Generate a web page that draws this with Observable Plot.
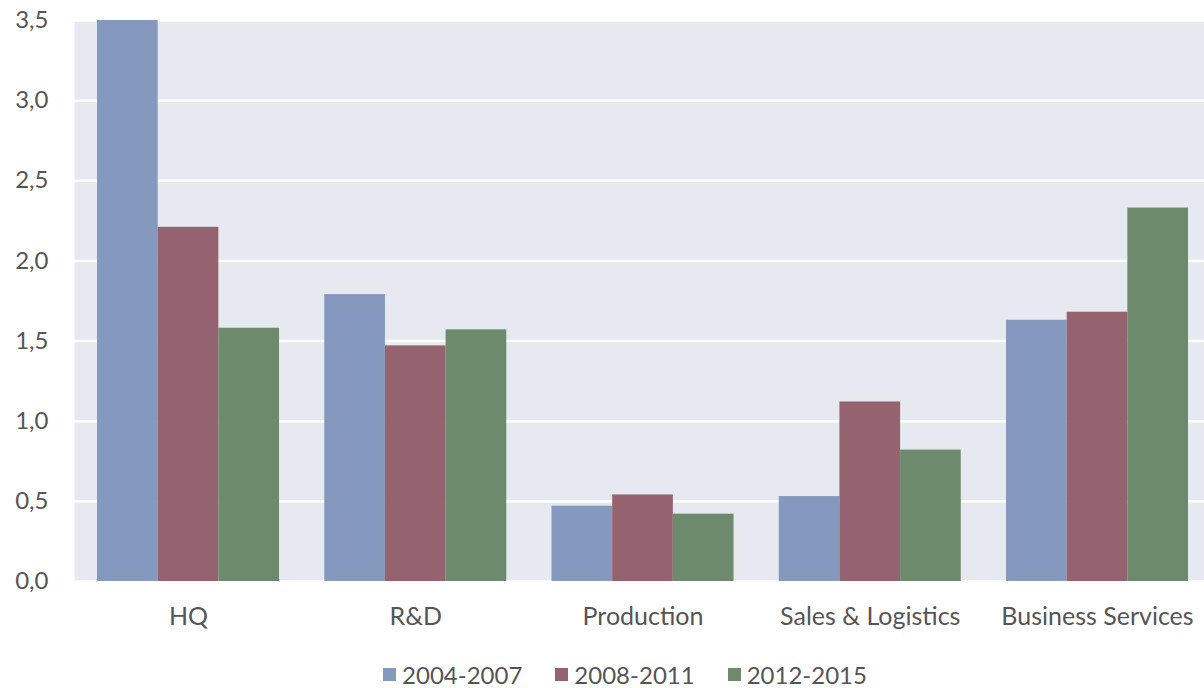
<!DOCTYPE html>
<html>
<head>
<meta charset="utf-8">
<script src="https://cdn.jsdelivr.net/npm/d3@7"></script>
<script src="https://cdn.jsdelivr.net/npm/@observablehq/plot@0.6"></script>
<style>
  body { margin: 0; background: #fff; font-family: Lato, "Open Sans", sans-serif; }
  #legend { display: flex; justify-content: center; gap: 33px; font-size: 24px; color: #555; margin-top: 20px; padding-left: 46px; }
  #legend span.item { display: inline-flex; align-items: center; }
  #legend span.sw { display: inline-block; width: 13px; height: 13px; margin-right: 6px; }
</style>
</head>
<body>
<div id="chart"></div>
<div id="legend"></div>
<script>
const categories = ["HQ", "R&D", "Production", "Sales & Logistics", "Business Services"];
const periods = ["2004-2007", "2008-2011", "2012-2015"];
const colors = ["#8499bd", "#94636f", "#6e8a6c"];
const values2004 = [3.5, 1.79, 0.47, 0.53, 1.63];
const values2008 = [2.21, 1.47, 0.54, 1.12, 1.68];
const values2012 = [1.58, 1.57, 0.42, 0.82, 2.33];
const yTicks = [0, 0.5, 1, 1.5, 2, 2.5, 3, 3.5];

const series = [values2004, values2008, values2012];

const width = 1204, marginLeft = 74, marginRight = 0;
const paddingInner = 0.199, paddingOuter = 0.0858, align = 0.59;
const step = (width - marginLeft - marginRight) / (categories.length - paddingInner + 2 * paddingOuter);
const bw = step * (1 - paddingInner);
const third = bw / 3;

const barMarks = series.map((vals, i) =>
  Plot.barY(categories.map((c, j) => ({category: c, value: vals[j]})), {
    x: "category", y: "value", fill: colors[i],
    insetLeft: i * third, insetRight: (2 - i) * third
  })
);

const fmt = d => d.toFixed(1).replace(".", ",");

const chart = Plot.plot({
  width, height: 640,
  marginLeft, marginRight, marginTop: 20, marginBottom: 59,
  style: {fontFamily: "Lato, 'Open Sans', sans-serif", fontSize: "24px", color: "#555", background: "#fff"},
  x: {domain: categories, paddingInner, paddingOuter, align, round: false, label: null, axis: null},
  y: {domain: [0, 3.5], ticks: yTicks, label: null, axis: null},
  marks: [
    Plot.frame({fill: "#e6e9f0", stroke: null}),
    Plot.gridY(yTicks, {stroke: "#fff", strokeOpacity: 1, strokeWidth: 2.5}),
    ...barMarks,
    Plot.axisY({ticks: yTicks, tickSize: 0, tickPadding: 26, tickFormat: fmt, label: null, fontSize: 24}),
    Plot.axisX({tickSize: 0, tickPadding: 26, label: null, fontSize: 25})
  ]
});
document.getElementById("chart").appendChild(chart);

const legend = document.getElementById("legend");
periods.forEach((p, i) => {
  const item = document.createElement("span");
  item.className = "item";
  const sw = document.createElement("span");
  sw.className = "sw";
  sw.style.background = colors[i];
  item.appendChild(sw);
  item.appendChild(document.createTextNode(p));
  legend.appendChild(item);
});
</script>
</body>
</html>
